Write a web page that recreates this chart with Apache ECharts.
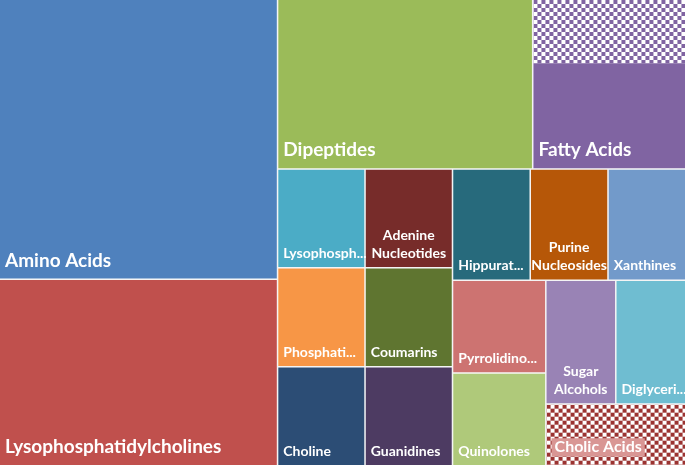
<!DOCTYPE html>
<html>
<head>
<meta charset="utf-8">
<script src="https://cdn.jsdelivr.net/npm/echarts@6/dist/echarts.min.js"></script>
<style>
html,body{margin:0;padding:0;background:#fff;}
#chart{width:685px;height:465px;}
</style>
</head>
<body>
<div id="chart"></div>
<script>
// ---- data ----
const categories = ['Amino Acids','Lysophosphatidylcholines','Dipeptides','Fatty Acids',
  'Lysophosph...','Phosphati...','Choline','Adenine Nucleotides','Coumarins','Guanidines',
  'Hippurat...','Purine Nucleosides','Xanthines','Pyrrolidino...','Quinolones',
  'Sugar Alcohols','Diglyceri...','Cholic Acids'];
const values = [9,6,5,3,1,1,1,1,1,1,1,1,1,1,1,1,1,1];
// Fatty Acids block: patterned share (top) and plain share
const fattyAcidParts = [1.13, 1.87];

// ---- styles ----
const colors = ['#4F81BD','#C0504D','#9BBB59','#8064A2',
  '#4BACC6','#F79646','#2C4D75','#772C2A','#5F7530','#4D3B62',
  '#276A7C','#B65708','#729ACA','#CD7371','#AFC97A',
  '#9983B5','#6FBDD1','#9B3331'];
const wrapped = new Set(['Adenine Nucleotides','Purine Nucleosides','Sugar Alcohols']);

function checker(fg, bg, size){
  const c = document.createElement('canvas');
  c.width = c.height = size*2;
  const g = c.getContext('2d');
  g.fillStyle = bg; g.fillRect(0,0,size*2,size*2);
  g.fillStyle = fg; g.fillRect(0,0,size,size); g.fillRect(size,size,size,size);
  return c;
}
const FONT = 'Lato';
function labelFor(name, value){
  const big = value >= 3;
  return {
    show: true,
    position: wrapped.has(name) ? 'insideBottom' : 'insideBottomLeft',
    distance: 5,
    padding: big ? [0, 0, 2, 0] : [0, 0, 0, 0],
    color: '#fff',
    fontFamily: FONT,
    fontWeight: 'bold',
    fontSize: big ? 19 : 14,
    lineHeight: big ? 22 : 18,
    overflow: 'none',
    formatter: p => wrapped.has(p.name) ? p.name.replace(' ', '\n') : p.name
  };
}

const data = categories.map((name, i) => {
  const node = {
    name,
    value: values[i],
    itemStyle: {color: colors[i]},
    label: labelFor(name, values[i])
  };
  if (name === 'Fatty Acids') {
    node.children = [
      {name: ' ', value: fattyAcidParts[0],
       itemStyle: {color: {image: checker('#8064A2', '#ffffff', 4), repeat: 'repeat'}},
       label: {show: false}},
      {name: 'Fatty Acids', value: fattyAcidParts[1],
       itemStyle: {color: colors[i]}, label: labelFor(name, values[i])}
    ];
  }
  if (name === 'Cholic Acids') {
    node.itemStyle.color = {image: checker('#9B3331', '#ffffff', 4), repeat: 'repeat'};
    node.label.distance = 5;
    node.label.padding = [39, 0, 0, 0];
    node.label.formatter = p => '{bg|' + p.name + '}';
    node.label.rich = {
      bg: {
        backgroundColor: '#D99694',
        color: '#fff',
        fontFamily: FONT,
        fontWeight: 'bold',
        fontSize: 16,
        lineHeight: 17,
        padding: [1, 3, 1, 3]
      }
    };
  }
  return node;
});

const chart = echarts.init(document.getElementById('chart'), null, {renderer: 'canvas'});
chart.setOption({
  animation: false,
  series: [{
    type: 'treemap',
    left: 0, top: 0, right: 0, bottom: 0,
    sort: false,
    squareRatio: 1,
    roam: false,
    nodeClick: false,
    breadcrumb: {show: false},
    emphasis: {disabled: true},
    itemStyle: {borderColor: '#ffffff', borderWidth: 0, gapWidth: 0},
    levels: [
      {itemStyle: {borderWidth: 0, gapWidth: 1.5, borderColor: '#f4f4f4'}},
      {itemStyle: {borderWidth: 0, gapWidth: 0}}
    ],
    data: data
  }]
});
</script>
</body>
</html>
